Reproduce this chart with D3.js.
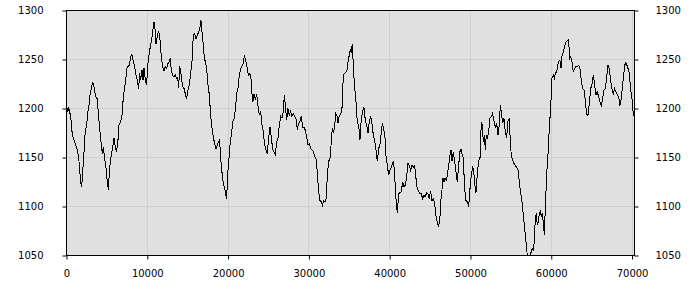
<!DOCTYPE html>
<html>
<head>
<meta charset="utf-8">
<script src="https://cdn.jsdelivr.net/npm/d3@7"></script>
<style>
  body { margin: 0; background: #fff; }
  svg { display: block; }
  .tick text { font-family: "DejaVu Sans", sans-serif; font-size: 10px; fill: #000; }
</style>
</head>
<body>
<svg></svg>
<script>
const xTicks = [0, 10000, 20000, 30000, 40000, 50000, 60000, 70000];
const yTicks = [1050, 1100, 1150, 1200, 1250, 1300];

const xs = [
  0, 103, 186, 268, 516, 722, 928, 1134, 1341, 1547, 1753, 1877, 2001, 2166, 2289, 2496, 2661, 2784, 2908, 3073,
  3238, 3403, 3609, 3816, 3939, 4146, 4311, 4434, 4558, 4723, 4888, 5053, 5177, 5301, 5466, 5672, 5878, 6002, 6167, 6332,
  6497, 6703, 6868, 6992, 7157, 7322, 7446, 7611, 7776, 7941, 8106, 8271, 8436, 8601, 8766, 8931, 9054, 9178, 9343, 9467,
  9591, 9756, 9921, 10044, 10209, 10333, 10498, 10663, 10828, 10952, 11076, 11241, 11406, 11571, 11736, 11901, 12066, 12231, 12396, 12561,
  12726, 12849, 12973, 13138, 13303, 13468, 13633, 13757, 13881, 14004, 14128, 14252, 14417, 14582, 14747, 14871, 15036, 15201, 15366, 15531,
  15696, 15861, 16026, 16191, 16356, 16521, 16644, 16768, 16933, 17057, 17181, 17346, 17511, 17676, 17841, 18006, 18171, 18336, 18501, 18666,
  18831, 18954, 19078, 19243, 19408, 19573, 19697, 19821, 19944, 20109, 20274, 20439, 20604, 20769, 20934, 21099, 21223, 21388, 21553, 21718,
  21883, 22007, 22172, 22337, 22502, 22667, 22832,
  22957, 23081, 23205, 23370, 23535, 23700, 23865, 24030, 24195, 24360, 24525, 24690, 24855, 25020, 25185, 25350, 25515, 25680, 25845, 26010,
  26175, 26340, 26505, 26670, 26835, 26958, 27082, 27247, 27412, 27577, 27742, 27907, 28072, 28237, 28402, 28567, 28732, 28897, 29062, 29227,
  29392, 29557, 29722, 29887, 30052, 30217, 30382, 30547, 30712, 30877, 31042, 31207, 31372, 31537, 31661, 31826, 31991, 32156, 32280, 32445,
  32610, 32775, 32898, 33022, 33187, 33311, 33476, 33600, 33765, 33930, 34095, 34260, 34425, 34590, 34755, 34878, 35002, 35126, 35250, 35373,
  35497, 35621, 35745, 35868, 35992, 36157, 36322, 36487, 36652, 36817, 36982, 37147, 37312, 37477, 37642, 37807, 37972, 38137, 38302, 38467,
  38632, 38797, 38962, 39086, 39251, 39416, 39540, 39705, 39870, 40035, 40200, 40365, 40489, 40612, 40777, 40942, 41107, 41272, 41437, 41602,
  41767, 41932, 42097, 42262, 42427, 42592, 42757, 42922, 43087, 43252, 43417, 43582, 43747, 43912, 44077, 44242, 44407, 44572, 44737, 44902,
  45067, 45232, 45397, 45562, 45727, 45892, 46057,
  46225, 46349, 46473, 46596, 46720, 46844, 47009, 47133, 47298, 47463, 47586, 47710, 47875, 48040, 48205, 48370, 48535, 48700, 48824, 48948,
  49113, 49278, 49443, 49608, 49773, 49938, 50103, 50268, 50391, 50515, 50680, 50845, 51010, 51175, 51340, 51464, 51588, 51711, 51835, 51959,
  52083, 52248, 52413, 52578, 52743, 52908, 53073, 53238, 53403, 53568, 53691, 53815, 53980, 54145, 54310, 54475, 54640, 54805, 54929, 55053,
  55218, 55383, 55548, 55713, 55878, 56043, 56208, 56373, 56538, 56703, 56868, 57033, 57198, 57363, 57528, 57651, 57775, 57899, 58023, 58146,
  58270, 58394, 58518, 58641, 58765, 58889, 59013, 59136, 59260, 59425, 59590, 59755, 59920, 60085, 60250, 60374, 60498, 60663, 60786, 60910,
  61075, 61199, 61323, 61488, 61653, 61818, 61983, 62148, 62271, 62395, 62560, 62725, 62890, 63055, 63220, 63385, 63550, 63715, 63880, 64045,
  64210, 64375, 64540, 64705, 64870, 65035, 65200, 65365, 65530, 65695, 65860, 66025, 66190, 66355, 66520, 66685, 66850, 67015, 67180, 67345,
  67510, 67675, 67840, 68005, 68170, 68335, 68500, 68665, 68830, 68995, 69160, 69325, 69490, 69655, 69820, 69985, 70109, 70233
];

const values = [
  1200, 1200, 1197, 1201, 1192, 1173, 1168, 1163, 1158, 1146, 1125, 1120, 1135, 1155, 1173, 1184, 1197, 1203, 1214, 1220,
  1227, 1222, 1212, 1210, 1195, 1176, 1163, 1154, 1161, 1149, 1139, 1125, 1117, 1135, 1149, 1158, 1170, 1163, 1156, 1163,
  1183, 1187, 1193, 1207, 1220, 1227, 1241, 1243, 1244, 1253, 1255, 1248, 1243, 1234, 1229, 1220, 1236, 1229, 1239, 1229,
  1241, 1229, 1224, 1243, 1254, 1261, 1268, 1278, 1288, 1281, 1266, 1274, 1279, 1270, 1253, 1243, 1238, 1243, 1241, 1246,
  1248, 1251, 1239, 1234, 1232, 1234, 1231, 1232, 1221, 1243, 1239, 1229, 1222, 1220, 1213, 1210, 1219, 1224, 1236, 1248,
  1275, 1276, 1271, 1275, 1278, 1283, 1290, 1278, 1265, 1251, 1248, 1241, 1224, 1214, 1193, 1180, 1171, 1164, 1159, 1163,
  1166, 1168, 1149, 1135, 1124, 1119, 1112, 1108, 1132, 1149, 1166, 1176, 1187, 1190, 1203, 1217, 1220, 1234, 1241, 1243,
  1246, 1254, 1249, 1243, 1234, 1236, 1231,
  1215, 1207, 1215, 1209, 1215, 1203, 1193, 1197, 1183, 1176, 1163, 1158, 1154, 1170, 1181, 1171, 1158, 1156, 1153, 1166,
  1170, 1183, 1192, 1190, 1197, 1214, 1203, 1188, 1200, 1193, 1197, 1192, 1195, 1192, 1190, 1178, 1185, 1187, 1192, 1181,
  1181, 1178, 1171, 1163, 1164, 1159, 1158, 1156, 1151, 1149, 1135, 1115, 1106, 1105, 1101, 1106, 1105, 1108, 1132, 1146,
  1149, 1166, 1180, 1175, 1181, 1195, 1193, 1185, 1193, 1194, 1200, 1234, 1236, 1237, 1240, 1251, 1254, 1260, 1258, 1266,
  1244, 1226, 1214, 1203, 1185, 1183, 1168, 1190, 1197, 1201, 1188, 1183, 1175, 1187, 1192, 1185, 1173, 1168, 1158, 1146,
  1159, 1163, 1176, 1185, 1180, 1171, 1152, 1142, 1132, 1137, 1140, 1145, 1146, 1132, 1108, 1093, 1113, 1114, 1115, 1125,
  1120, 1122, 1130, 1144, 1142, 1137, 1142, 1140, 1142, 1129, 1118, 1116, 1113, 1113, 1108, 1111, 1110, 1114, 1113, 1108,
  1116, 1106, 1108, 1103, 1091, 1084, 1079,
  1090, 1107, 1117, 1129, 1125, 1129, 1127, 1132, 1142, 1152, 1158, 1146, 1156, 1146, 1135, 1125, 1142, 1156, 1159, 1154,
  1149, 1118, 1106, 1105, 1100, 1118, 1132, 1140, 1138, 1123, 1114, 1133, 1147, 1149, 1186, 1183, 1166, 1173, 1158, 1173,
  1170, 1176, 1190, 1192, 1195, 1187, 1181, 1185, 1173, 1183, 1203, 1197, 1185, 1190, 1176, 1170, 1187, 1190, 1166, 1152,
  1147, 1144, 1142, 1140, 1138, 1125, 1114, 1105, 1091, 1078, 1064, 1050, 1046, 1046, 1054, 1057, 1056, 1064, 1088, 1093,
  1081, 1084, 1093, 1095, 1090, 1093, 1084, 1071, 1098, 1132, 1152, 1180, 1200, 1231, 1234, 1231, 1236, 1237, 1243, 1248,
  1249, 1241, 1253, 1258, 1263, 1268, 1269, 1270, 1251, 1253, 1248, 1237, 1241, 1243, 1243, 1244, 1241, 1229, 1220, 1219,
  1208, 1194, 1193, 1205, 1220, 1225, 1234, 1224, 1214, 1217, 1212, 1207, 1203, 1210, 1219, 1220, 1231, 1244, 1241, 1229,
  1220, 1215, 1220, 1217, 1214, 1212, 1203, 1210, 1224, 1237, 1247, 1245, 1241, 1236, 1220, 1210, 1198, 1192
];

const width = 700;
const height = 300;
const margin = { top: 10, right: 66, bottom: 45, left: 66 };
const w = width - margin.left - margin.right;
const h = height - margin.top - margin.bottom;

const svg = d3.select('svg')
  .attr('width', width)
  .attr('height', height);

const g = svg.append('g')
  .attr('transform', `translate(${margin.left + 0.5},${margin.top + 0.5})`);

const x = d3.scaleLinear().domain([0, 70300]).range([0, w]);
const y = d3.scaleLinear().domain([1050, 1300]).range([h, 0]).clamp(true);

g.append('rect')
  .attr('width', w)
  .attr('height', h)
  .attr('fill', '#e0e0e0');

// grid
g.append('g')
  .selectAll('line')
  .data(xTicks.slice(1))
  .enter().append('line')
    .attr('x1', d => Math.round(x(d)))
    .attr('x2', d => Math.round(x(d)))
    .attr('y1', 0)
    .attr('y2', h)
    .attr('stroke', '#cfcfcf');

g.append('g')
  .selectAll('line')
  .data(yTicks.slice(1, -1))
  .enter().append('line')
    .attr('x1', 0)
    .attr('x2', w)
    .attr('y1', d => Math.round(y(d)))
    .attr('y2', d => Math.round(y(d)))
    .attr('stroke', '#cfcfcf');

const points = xs.map((d, i) => [d, values[i]]);

const line = d3.line()
  .x(d => x(d[0]))
  .y(d => y(d[1]));

g.append('path')
  .datum(points)
  .attr('fill', 'none')
  .attr('stroke', '#000')
  .attr('stroke-width', 1)
  .attr('shape-rendering', 'crispEdges')
  .attr('d', line);

// frame
g.append('rect')
  .attr('width', w)
  .attr('height', h)
  .attr('fill', 'none')
  .attr('stroke', '#000');

const xAxis = g.append('g')
  .attr('transform', `translate(0,${h})`)
  .call(d3.axisBottom(x).tickValues(xTicks).tickFormat(d3.format('d')).tickSize(4).tickPadding(10));

const yLeft = g.append('g')
  .call(d3.axisLeft(y).tickValues(yTicks).tickFormat(d3.format('d')).tickSize(4).tickPadding(19));

const yRight = g.append('g')
  .attr('transform', `translate(${w},0)`)
  .call(d3.axisRight(y).tickValues(yTicks).tickFormat(d3.format('d')).tickSize(4).tickPadding(17));

[xAxis, yLeft, yRight].forEach(a => {
  a.select('.domain').remove();
  a.selectAll('.tick line').attr('stroke', '#000');
});
</script>
</body>
</html>
